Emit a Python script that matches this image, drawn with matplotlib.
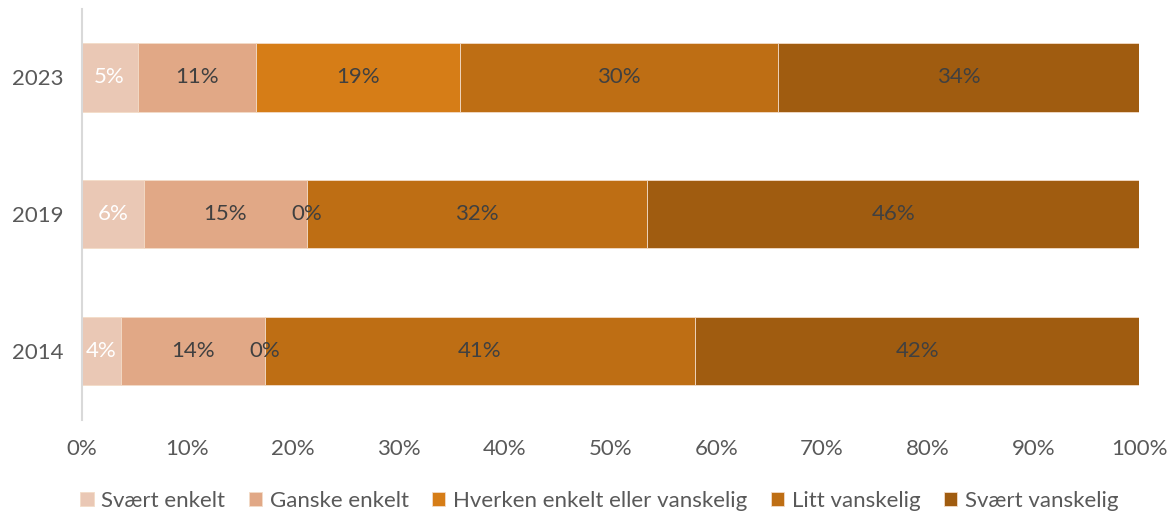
import numpy as np
import matplotlib.pyplot as plt

years = ['2014', '2019', '2023']
categories = ['Svært enkelt', 'Ganske enkelt', 'Hverken enkelt eller vanskelig',
              'Litt vanskelig', 'Svært vanskelig']
# andel (%) per år, i samme rekkefølge som years
svaert_enkelt = [3.7, 5.9, 5.3]
ganske_enkelt = [13.6, 15.4, 11.2]
hverken = [0.0, 0.0, 19.3]
litt_vanskelig = [40.7, 32.2, 30.0]
svaert_vanskelig = [42.0, 46.5, 34.2]

series = [svaert_enkelt, ganske_enkelt, hverken, litt_vanskelig, svaert_vanskelig]
colors = ['#EAC8B5', '#E1A886', '#D67D17', '#BE6E14', '#A05C10']
label_colors = ['white', '#404040', '#404040', '#404040', '#404040']

plt.rcParams['font.family'] = ['Lato', 'DejaVu Sans']
fs = 16

fig = plt.figure(figsize=(11.73, 5.15), dpi=100)
ax = fig.add_axes([0.0695, 0.1854, 0.9018, 0.797])

y = np.arange(len(years))
left = np.zeros(len(years))
for vals, col, lcol, name in zip(series, colors, label_colors, categories):
    vals = np.array(vals)
    ax.barh(y, vals, left=left, height=0.5, color=col, label=name,
            edgecolor='#F3DCC8', linewidth=0.6)
    for yi, l, v in zip(y, left, vals):
        ax.text(l + v / 2, yi, '{:.0f}%'.format(v), ha='center', va='center',
                fontsize=fs, color=lcol)
    left += vals

ax.set_xlim(0, 100)
ax.set_ylim(-0.5, 2.5)
ax.set_xticks(np.arange(0, 101, 10))
ax.set_xticklabels(['{}%'.format(t) for t in range(0, 101, 10)])
ax.set_yticks(y)
ax.set_yticklabels(years)
ax.tick_params(axis='both', length=0, labelsize=fs, colors='#595959')
ax.tick_params(axis='x', pad=14)
ax.tick_params(axis='y', pad=13)

for s in ['top', 'right', 'bottom']:
    ax.spines[s].set_visible(False)
ax.spines['left'].set_color('#D9D9D9')
ax.spines['left'].set_linewidth(1.5)

fig.legend(loc='center', bbox_to_anchor=(0.511, 0.027), ncol=5, frameon=False,
           fontsize=fs, handlelength=0.6, handleheight=0.6, handletextpad=0.35,
           columnspacing=1.05, labelcolor='#595959')

plt.savefig('out.png', dpi=100)
